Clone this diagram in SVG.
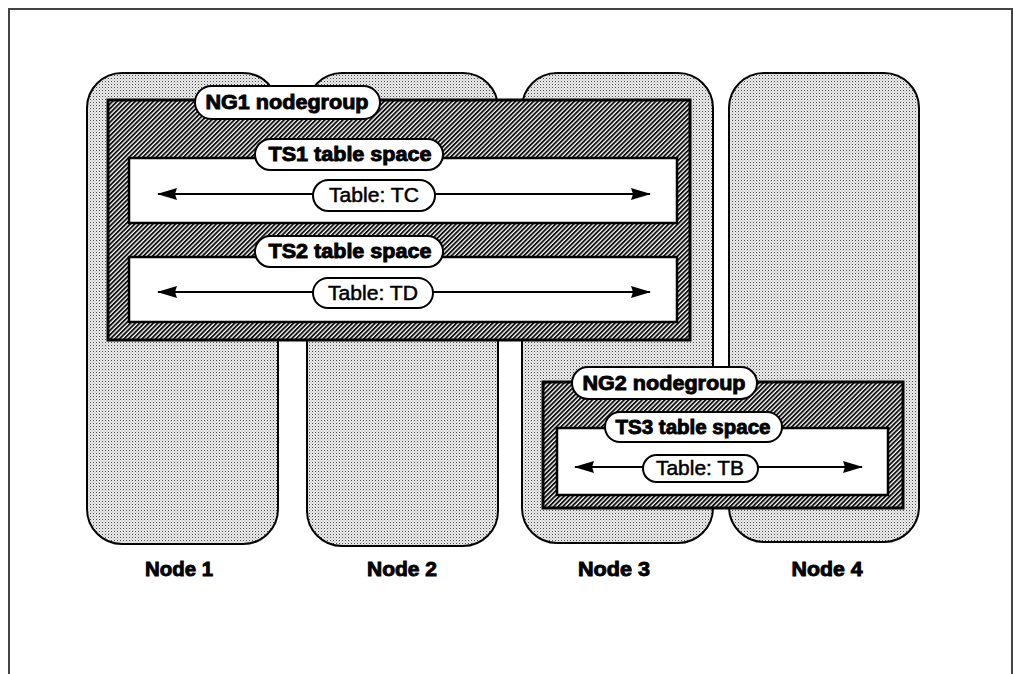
<svg xmlns="http://www.w3.org/2000/svg" width="1013" height="674" viewBox="0 0 1013 674">
<defs>
<pattern id="dots" width="3" height="3" patternUnits="userSpaceOnUse">
<rect width="3" height="3" fill="#eeeeee"/>
<rect x="0" y="0" width="1" height="1" fill="#444"/>
<rect x="1.5" y="1.5" width="1" height="1" fill="#999"/>
</pattern>
<pattern id="hatch" width="3.2" height="3.2" patternUnits="userSpaceOnUse" patternTransform="rotate(45)">
<rect width="3.2" height="3.2" fill="#fff"/>
<rect width="1.9" height="3.2" fill="#111"/>
</pattern>
<marker id="ah" viewBox="0 0 20 14" refX="19" refY="7" markerWidth="20" markerHeight="14" markerUnits="userSpaceOnUse" orient="auto">
<path d="M0,1 L20,7 L0,13 L2,7 Z" fill="#000"/>
</marker>
<style>
.node{fill:url(#dots);stroke:#000;stroke-width:2}
.ng{fill:url(#hatch);stroke:#000;stroke-width:3}
.ts{fill:#fff;stroke:#000;stroke-width:2.5}
.pill{fill:#fff;stroke:#000;stroke-width:2}
.lbl{font-family:"Liberation Sans",Arial,sans-serif;font-weight:bold;font-size:20px;fill:#000;stroke:#000;stroke-width:0.9;text-anchor:middle}
.tlbl{font-family:"Liberation Sans",Arial,sans-serif;font-size:20px;fill:#000;stroke:#000;stroke-width:0.5;text-anchor:middle}
.arr{stroke:#000;stroke-width:2;fill:none;marker-end:url(#ah)}
</style>
</defs>
<rect width="1013" height="674" fill="#fff"/>
<path d="M9,674 V9 H1012 V674" fill="none" stroke="#444" stroke-width="2"/>

<g id="node1">
<rect class="node" x="87" y="73" width="191" height="471" rx="35"/>
<text class="lbl" x="179" y="576" textLength="68" lengthAdjust="spacingAndGlyphs">Node 1</text>
</g>
<g id="node2">
<rect class="node" x="307" y="73" width="191" height="473" rx="35"/>
<text class="lbl" x="402" y="576" textLength="70" lengthAdjust="spacingAndGlyphs">Node 2</text>
</g>
<g id="node3">
<rect class="node" x="522" y="73" width="191" height="470" rx="35"/>
<text class="lbl" x="614" y="576" textLength="72" lengthAdjust="spacingAndGlyphs">Node 3</text>
</g>
<g id="node4">
<rect class="node" x="729" y="73" width="190" height="469" rx="35"/>
<text class="lbl" x="827" y="576" textLength="71" lengthAdjust="spacingAndGlyphs">Node 4</text>
</g>

<g id="ng1">
<rect class="ng" x="108" y="100" width="582" height="240"/>
<rect class="pill" x="195" y="86" width="185" height="33" rx="16.5"/>
<text class="lbl" x="287" y="109" textLength="163" lengthAdjust="spacingAndGlyphs">NG1 nodegroup</text>
</g>
<g id="ts1">
<rect class="ts" x="129" y="158" width="548" height="65"/>
<rect class="pill" x="255" y="139" width="188" height="31" rx="15.5"/>
<text class="lbl" x="350" y="161" textLength="163" lengthAdjust="spacingAndGlyphs">TS1 table space</text>
</g>
<g id="ts2">
<rect class="ts" x="129" y="257" width="548" height="65"/>
<rect class="pill" x="255" y="236" width="188" height="31" rx="15.5"/>
<text class="lbl" x="350" y="258" textLength="163" lengthAdjust="spacingAndGlyphs">TS2 table space</text>
</g>

<g id="ng2">
<rect class="ng" x="543" y="382" width="360" height="126"/>
<rect class="pill" x="572" y="367" width="185" height="32" rx="16"/>
<text class="lbl" x="664" y="390" textLength="163" lengthAdjust="spacingAndGlyphs">NG2 nodegroup</text>
</g>
<g id="ts3">
<rect class="ts" x="557" y="428" width="331" height="67"/>
<rect class="pill" x="605" y="412" width="177" height="30" rx="15"/>
<text class="lbl" x="693" y="434" textLength="155" lengthAdjust="spacingAndGlyphs">TS3 table space</text>
</g>

<g id="connectors">
<line class="arr" x1="313" y1="194" x2="158" y2="194"/>
<line class="arr" x1="435" y1="194" x2="650" y2="194"/>
<line class="arr" x1="313" y1="292" x2="158" y2="292"/>
<line class="arr" x1="433" y1="292" x2="650" y2="292"/>
<line class="arr" x1="643" y1="467" x2="575" y2="467"/>
<line class="arr" x1="758" y1="467" x2="862" y2="467"/>
</g>

<g id="tableTC">
<rect class="pill" x="313" y="180" width="122" height="31" rx="15.5"/>
<text class="tlbl" x="374" y="202" textLength="90" lengthAdjust="spacingAndGlyphs">Table: TC</text>
</g>
<g id="tableTD">
<rect class="pill" x="313" y="278" width="120" height="30" rx="15"/>
<text class="tlbl" x="373" y="300" textLength="90" lengthAdjust="spacingAndGlyphs">Table: TD</text>
</g>
<g id="tableTB">
<rect class="pill" x="643" y="455" width="115" height="27" rx="13.5"/>
<text class="tlbl" x="700" y="475" textLength="88" lengthAdjust="spacingAndGlyphs">Table: TB</text>
</g>
</svg>
